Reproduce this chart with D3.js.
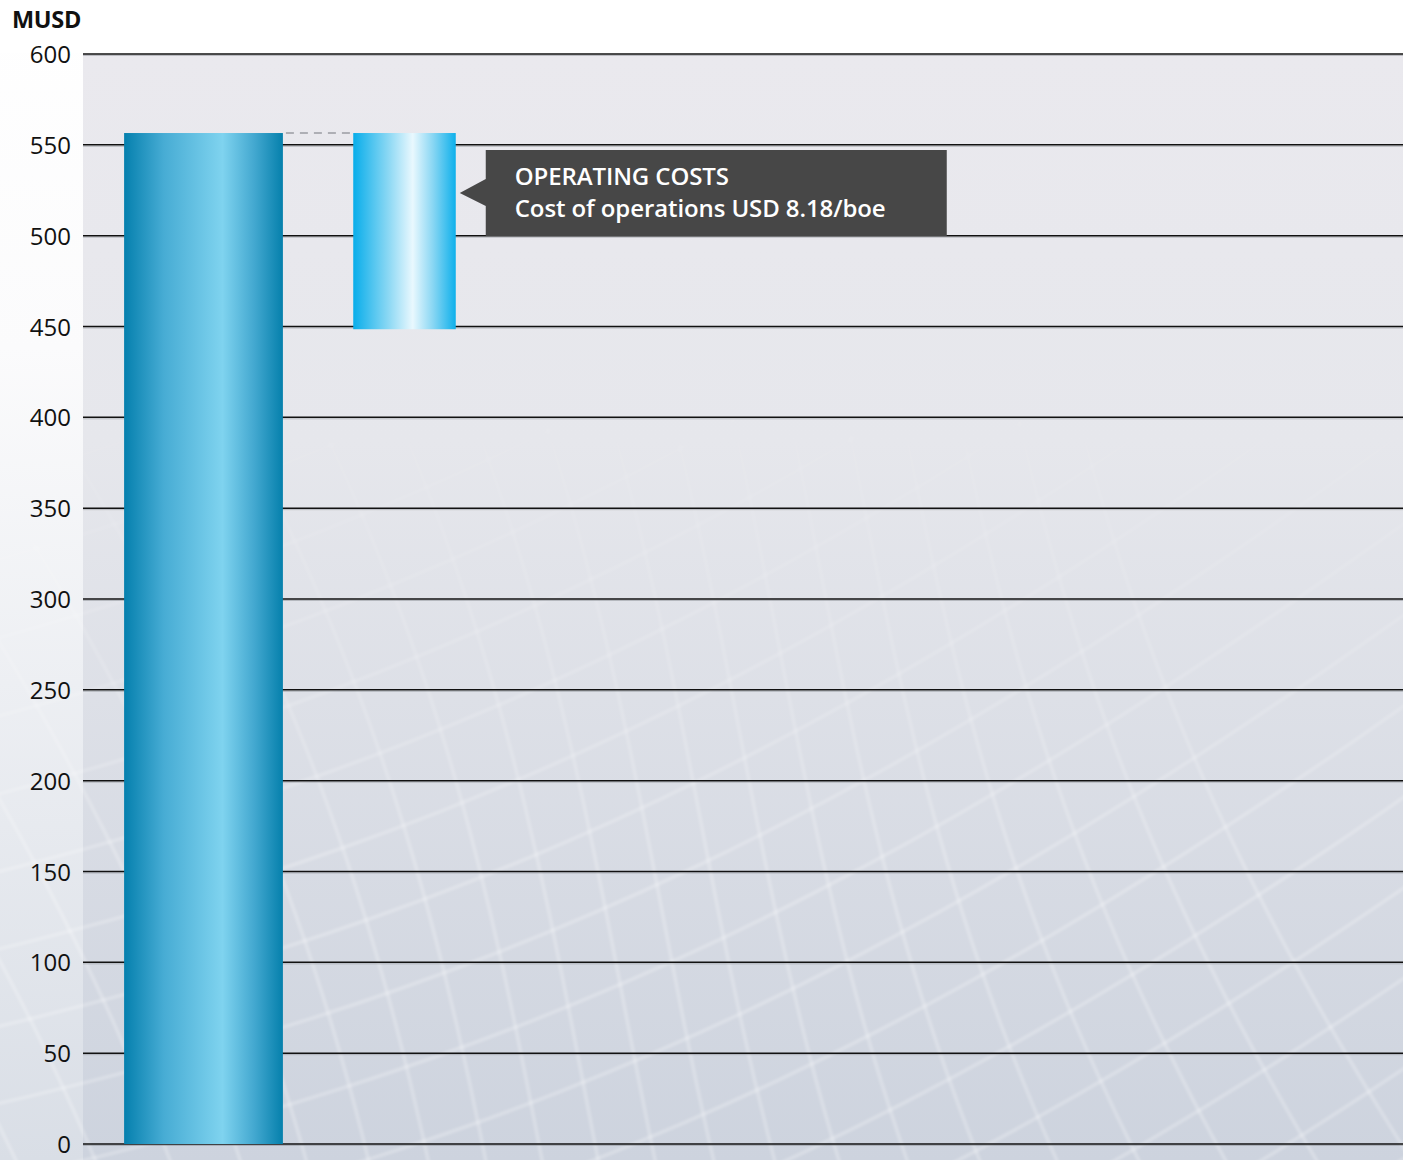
<!DOCTYPE html>
<html>
<head>
<meta charset="utf-8">
<script src="https://cdn.jsdelivr.net/npm/d3@7"></script>
<style>
  html, body { margin: 0; padding: 0; background: #ffffff; }
  svg { display: block; }
</style>
</head>
<body>
<svg id="chart" width="1403" height="1160"></svg>
<script>
// Waterfall steps (MUSD)
const categories = ["Total income", "Operating costs"];
const stepValues = [556.5, -108];
const stepKinds = ["total", "step"];
const yTicks = [0, 50, 100, 150, 200, 250, 300, 350, 400, 450, 500, 550, 600];
const unitLabel = "MUSD";
const calloutTitle = "OPERATING COSTS";
const calloutText = "Cost of operations USD 8.18/boe";

const W = 1403, H = 1160;
const plot = { left: 83, right: 1403, top: 54, bottom: 1144 };

const svg = d3.select("#chart");
const defs = svg.append("defs");

// ---------- background ----------
const pageGrad = defs.append("linearGradient").attr("id", "pageBg")
  .attr("x1", 0).attr("y1", 0).attr("x2", 0).attr("y2", 1);
pageGrad.append("stop").attr("offset", "0%").attr("stop-color", "#ffffff");
pageGrad.append("stop").attr("offset", "30%").attr("stop-color", "#fbfbfc");
pageGrad.append("stop").attr("offset", "100%").attr("stop-color", "#d9dee6");

const plotGrad = defs.append("linearGradient").attr("id", "plotBg")
  .attr("x1", 0).attr("y1", 0).attr("x2", 0).attr("y2", 1);
plotGrad.append("stop").attr("offset", "0%").attr("stop-color", "#eae9ee");
plotGrad.append("stop").attr("offset", "35%").attr("stop-color", "#e6e7ec");
plotGrad.append("stop").attr("offset", "100%").attr("stop-color", "#cdd3de");

svg.append("rect").attr("width", W).attr("height", H).attr("fill", "url(#pageBg)");
svg.append("rect").attr("x", 0).attr("y", 0).attr("width", W).attr("height", plot.top - 1).attr("fill", "#ffffff");
svg.append("rect")
  .attr("x", plot.left).attr("y", plot.top)
  .attr("width", plot.right - plot.left).attr("height", H - plot.top)
  .attr("fill", "url(#plotBg)");

// soft mesh texture, fading in towards the bottom
const fade = defs.append("linearGradient").attr("id", "meshFade")
  .attr("x1", 0).attr("y1", 0).attr("x2", 0).attr("y2", 1);
fade.append("stop").attr("offset", "0%").attr("stop-color", "#000");
fade.append("stop").attr("offset", "30%").attr("stop-color", "#000");
fade.append("stop").attr("offset", "75%").attr("stop-color", "#fff");
fade.append("stop").attr("offset", "100%").attr("stop-color", "#fff");
const mask = defs.append("mask").attr("id", "meshMask");
mask.append("rect").attr("width", W).attr("height", H).attr("fill", "url(#meshFade)");
defs.append("filter").attr("id", "meshBlur")
  .append("feGaussianBlur").attr("stdDeviation", 1.5);

const mesh = svg.append("g").attr("mask", "url(#meshMask)")
  .attr("filter", "url(#meshBlur)")
  .attr("fill", "none").attr("stroke", "#ffffff")
  .attr("stroke-opacity", 0.3).attr("stroke-width", 3);
const curve = d3.line().curve(d3.curveBasis);
for (let i = -10; i < 18; i++) {
  const pa = [], pb = [];
  for (let t = 0; t <= 1.0001; t += 0.05) {
    // family A: rising to the right with a gentle bow
    pa.push([-200 + t * 1900 + i * 30, 1300 + i * 70 - t * 900 + 160 * Math.sin(t * Math.PI)]);
    // family B: near-vertical sweeping curves
    const bx = -300 + i * 80;
    pb.push([bx + t * 500 + 120 * Math.sin(t * 2.4 + i * 0.2), 200 + t * 1100]);
  }
  mesh.append("path").attr("d", curve(pa));
  mesh.append("path").attr("d", curve(pb));
}

// ---------- scales ----------
const y = d3.scaleLinear().domain([0, 600]).range([plot.bottom, plot.top]);
const x = d3.scaleBand().domain(categories).range([103, 505]).paddingInner(0).paddingOuter(0);

// ---------- gridlines & axis labels ----------
const grid = svg.append("g");
grid.selectAll("line.shadow").data(yTicks).join("line")
  .attr("class", "shadow")
  .attr("x1", plot.left).attr("x2", plot.right)
  .attr("y1", d => y(d) + 1.5).attr("y2", d => y(d) + 1.5)
  .attr("stroke", "#8a8d94").attr("stroke-opacity", 0.5).attr("stroke-width", 1);
grid.selectAll("line.major").data(yTicks).join("line")
  .attr("class", "major")
  .attr("x1", plot.left).attr("x2", plot.right)
  .attr("y1", d => y(d)).attr("y2", d => y(d))
  .attr("stroke", "#111111").attr("stroke-width", 1.5);

const yAxis = d3.axisLeft(y).tickValues(yTicks).tickSize(0).tickPadding(12);
const axisG = svg.append("g").attr("transform", `translate(${plot.left},0)`).call(yAxis);
axisG.select(".domain").remove();
axisG.selectAll("text")
  .attr("font-family", "'Open Sans', sans-serif")
  .attr("font-size", 24).attr("fill", "#111111")
  .attr("dy", "0.36em");

svg.append("text")
  .attr("x", 12).attr("y", 28)
  .attr("font-family", "'Open Sans', sans-serif")
  .attr("font-size", 23.5).attr("font-weight", 700).attr("fill", "#111111")
  .attr("letter-spacing", -0.3)
  .text(unitLabel);

// ---------- waterfall bars ----------
const g1 = defs.append("linearGradient").attr("id", "totalGrad").attr("x1", 0).attr("x2", 1).attr("y1", 0).attr("y2", 0);
[["0%", "#0580ae"], ["25%", "#47acd4"], ["62%", "#7fd3ef"], ["82%", "#43a8d0"], ["100%", "#0580ac"]]
  .forEach(([o, c]) => g1.append("stop").attr("offset", o).attr("stop-color", c));
const g2 = defs.append("linearGradient").attr("id", "stepGrad").attr("x1", 0).attr("x2", 1).attr("y1", 0).attr("y2", 0);
[["0%", "#08adea"], ["35%", "#8ed9f4"], ["58%", "#e9f8fe"], ["78%", "#88d6f3"], ["100%", "#0eb0eb"]]
  .forEach(([o, c]) => g2.append("stop").attr("offset", o).attr("stop-color", c));

// running totals
let running = 0;
const bars = categories.map((c, i) => {
  const start = stepKinds[i] === "total" ? 0 : running;
  const end = stepKinds[i] === "total" ? stepValues[i] : running + stepValues[i];
  running = end;
  return { cat: c, kind: stepKinds[i], start, end };
});

const widthFrac = { total: 0.79, step: 0.51 };
const barX = d => x(d.cat) + (x.bandwidth() - x.bandwidth() * widthFrac[d.kind]) / 2;
const barW = d => x.bandwidth() * widthFrac[d.kind];

// connector from previous bar top
bars.forEach((d, i) => {
  if (i === 0) return;
  const prev = bars[i - 1];
  svg.append("line")
    .attr("x1", barX(prev) + barW(prev)).attr("x2", barX(d))
    .attr("y1", y(prev.end)).attr("y2", y(prev.end))
    .attr("stroke", "#9a9ca2").attr("stroke-width", 1.5)
    .attr("stroke-dasharray", "8,6").attr("stroke-dashoffset", -3);
});

svg.append("g").selectAll("rect").data(bars).join("rect")
  .attr("x", barX)
  .attr("width", barW)
  .attr("y", d => y(Math.max(d.start, d.end)))
  .attr("height", d => Math.abs(y(d.start) - y(d.end)))
  .attr("fill", d => d.kind === "total" ? "url(#totalGrad)" : "url(#stepGrad)");

// ---------- callout next to the latest step ----------
const last = bars[bars.length - 1];
const cx = barX(last) + barW(last) + 30;
const cTop = y(Math.max(last.start, last.end)) + 17;
const boxW = 461, boxH = 86;
const callout = svg.append("g").attr("transform", `translate(${cx},${cTop})`);
callout.append("path")
  .attr("d", `M0,0 H${boxW} V${boxH} H0 V${boxH / 2 + 13} L-26,${boxH / 2} L0,${boxH / 2 - 14} Z`)
  .attr("fill", "#474747");
callout.append("text")
  .attr("x", 29).attr("y", 35)
  .attr("font-family", "'Open Sans', sans-serif")
  .attr("font-size", 24).attr("font-weight", 600).attr("fill", "#ffffff")
  .attr("letter-spacing", -0.1)
  .text(calloutTitle);
callout.append("text")
  .attr("x", 29).attr("y", 67)
  .attr("font-family", "'Open Sans', sans-serif")
  .attr("font-size", 24).attr("font-weight", 600).attr("fill", "#ffffff")
  .attr("letter-spacing", -0.1)
  .text(calloutText);
</script>
</body>
</html>
